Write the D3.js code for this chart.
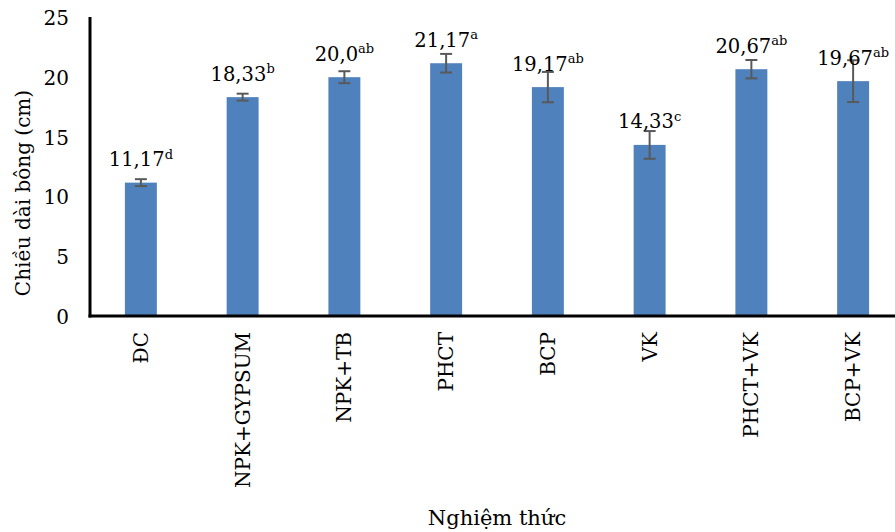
<!DOCTYPE html>
<html>
<head>
<meta charset="utf-8">
<script src="https://cdn.jsdelivr.net/npm/d3@7"></script>
<style>
  html, body { margin: 0; padding: 0; background: #fff; }
  svg { display: block; }
</style>
</head>
<body>
<svg id="chart" width="895" height="532"></svg>
<script>
const categories = ["ĐC", "NPK+GYPSUM", "NPK+TB", "PHCT", "BCP", "VK", "PHCT+VK", "BCP+VK"];
const values = [11.17, 18.33, 20.0, 21.17, 19.17, 14.33, 20.67, 19.67];
const errors = [0.29, 0.29, 0.5, 0.78, 1.27, 1.16, 0.77, 1.75];
const valueLabels = ["11,17", "18,33", "20,0", "21,17", "19,17", "14,33", "20,67", "19,67"];
const letters = ["d", "b", "ab", "a", "ab", "c", "ab", "ab"];
const yTicks = [0, 5, 10, 15, 20, 25];

const svg = d3.select("#chart");
const mLeft = 90, mRight = 904, mTop = 17.5, mBottom = 316;
const FONT = "'DejaVu Serif', serif";

const x = d3.scaleBand().domain(categories).range([mLeft, mRight])
  .paddingInner(0.686).paddingOuter(0.343);
const y = d3.scaleLinear().domain([0, 25]).range([mBottom, mTop]);

const data = categories.map((c, i) => ({c, v: values[i], e: errors[i], lab: valueLabels[i], sup: letters[i]}));

// bars
svg.append("g").selectAll("rect").data(data).join("rect")
  .attr("x", d => x(d.c))
  .attr("y", d => y(d.v))
  .attr("width", x.bandwidth())
  .attr("height", d => y(0) - y(d.v))
  .attr("fill", "#4F81BD");

// error bars
const eg = svg.append("g").attr("stroke", "#595959").attr("stroke-width", 2);
data.forEach(d => {
  const cx = x(d.c) + x.bandwidth() / 2;
  eg.append("line").attr("x1", cx).attr("x2", cx).attr("y1", y(d.v + d.e)).attr("y2", y(d.v - d.e));
  eg.append("line").attr("x1", cx - 6).attr("x2", cx + 6).attr("y1", y(d.v + d.e)).attr("y2", y(d.v + d.e));
  eg.append("line").attr("x1", cx - 6).attr("x2", cx + 6).attr("y1", y(d.v - d.e)).attr("y2", y(d.v - d.e));
});

// data labels
const lg = svg.append("g");
data.forEach(d => {
  const cx = x(d.c) + x.bandwidth() / 2;
  const t = lg.append("text")
    .attr("x", cx).attr("y", y(d.v) - 16.5)
    .attr("text-anchor", "middle")
    .style("font-family", FONT)
    .style("font-size", "19.5px").attr("fill", "#000");
  t.append("tspan").text(d.lab);
  t.append("tspan").style("font-size", "13px").attr("dy", -7.5).text(d.sup);
});

// y axis
const yAxis = d3.axisLeft(y).tickValues(yTicks).tickSize(0).tickPadding(21).tickFormat(d3.format("d"));
const yg = svg.append("g").attr("transform", `translate(${mLeft},0)`).call(yAxis);
yg.select(".domain").remove();
yg.selectAll("text").style("font-family", FONT).style("font-size", "20px").attr("fill", "#000").attr("dy", "0.36em");

// x axis labels
const xAxis = d3.axisBottom(x).tickSize(0).tickPadding(0);
const xg = svg.append("g").attr("transform", `translate(0,${mBottom})`).call(xAxis);
xg.select(".domain").remove();
xg.selectAll(".tick text")
  .style("font-family", FONT).style("font-size", "20px").attr("fill", "#000")
  .attr("transform", "rotate(-90)")
  .attr("text-anchor", "end")
  .attr("x", -16).attr("y", 0).attr("dy", "0.35em");

// axis lines
svg.append("line").attr("x1", mLeft).attr("x2", mLeft).attr("y1", mTop - 0.5).attr("y2", mBottom + 1.5)
  .attr("stroke", "#000").attr("stroke-width", 3);
svg.append("line").attr("x1", mLeft - 1.5).attr("x2", 895).attr("y1", mBottom).attr("y2", mBottom)
  .attr("stroke", "#000").attr("stroke-width", 3);

// axis titles
svg.append("text").attr("x", (mLeft + mRight) / 2).attr("y", 525)
  .attr("text-anchor", "middle").style("font-family", FONT).style("font-size", "21px").attr("fill", "#000").text("Nghiệm thức");
svg.append("text").attr("transform", "translate(30,193) rotate(-90)")
  .attr("text-anchor", "middle").style("font-family", FONT).style("font-size", "20px").attr("fill", "#000").text("Chiều dài bông (cm)");
</script>
</body>
</html>
